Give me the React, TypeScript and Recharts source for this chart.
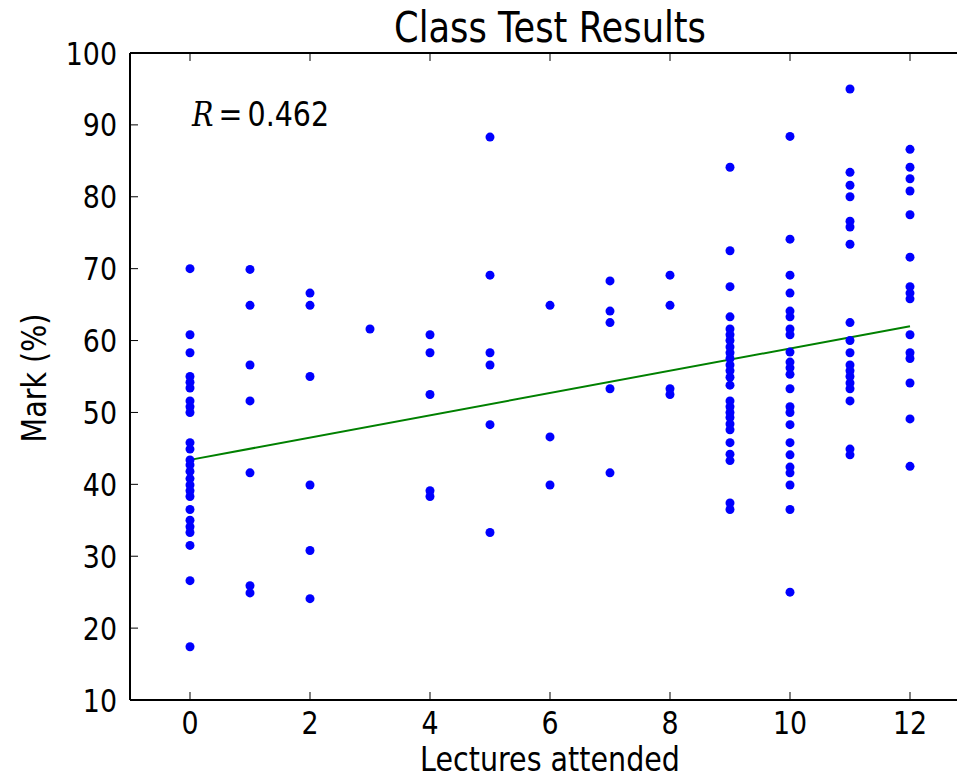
import React from "react";
import {
  ScatterChart,
  Scatter,
  XAxis,
  YAxis,
  ReferenceLine,
  ReferenceDot,
  Label,
} from "recharts";

// marks (%) per number of lectures attended
const lectures = [0, 1, 2, 3, 4, 5, 6, 7, 8, 9, 10, 11, 12];
const marks0 = [70, 60.8, 58.3, 55.0, 54.2, 53.4, 51.6, 50.8, 50.0, 45.8, 44.9, 43.4, 42.7, 41.8, 40.8, 39.9, 39.1, 38.3, 36.5, 35.0, 34.1, 33.3, 31.5, 26.6, 17.4];
const marks1 = [69.9, 64.9, 56.6, 51.6, 41.6, 25.9, 24.9];
const marks2 = [66.6, 64.9, 55.0, 39.9, 30.8, 24.1];
const marks3 = [61.6];
const marks4 = [60.8, 58.3, 52.5, 39.1, 38.3];
const marks5 = [88.3, 69.1, 58.3, 56.6, 48.3, 33.3];
const marks6 = [64.9, 46.6, 39.9];
const marks7 = [68.3, 64.1, 62.5, 53.3, 41.6];
const marks8 = [69.1, 64.9, 53.3, 52.5];
const marks9 = [84.1, 72.5, 67.5, 63.3, 61.6, 60.8, 60.0, 59.1, 58.3, 57.5, 56.6, 55.8, 54.9, 53.8, 51.6, 50.8, 50.0, 49.3, 48.4, 47.6, 45.8, 44.2, 43.3, 37.4, 36.5];
const marks10 = [88.4, 74.1, 69.1, 66.6, 64.1, 63.3, 61.6, 60.8, 58.4, 57.0, 56.2, 55.3, 53.3, 50.8, 50.0, 48.3, 45.8, 44.1, 42.4, 41.6, 39.9, 36.5, 25.0];
const marks11 = [95.0, 83.4, 81.6, 80.0, 76.6, 75.8, 73.4, 62.5, 60.0, 58.3, 56.6, 55.8, 55.0, 54.1, 53.3, 51.6, 44.9, 44.1];
const marks12 = [86.6, 84.1, 82.5, 80.8, 77.5, 71.6, 67.5, 66.6, 65.8, 60.8, 58.3, 57.5, 54.1, 49.1, 42.5];

// least-squares line endpoints (as drawn)
const fitX = [0, 12];
const fitY = [43.4, 62.0];

const xTicks = [0, 2, 4, 6, 8, 10, 12];
const yTicks = [10, 20, 30, 40, 50, 60, 70, 80, 90, 100];
const rLabel = "0.462";

const allMarks = [marks0, marks1, marks2, marks3, marks4, marks5, marks6, marks7, marks8, marks9, marks10, marks11, marks12];
const points = lectures.flatMap((x, i) => allMarks[i].map((y) => ({ x, y })));

const FONT = "'DejaVu Sans', sans-serif";
const SX = 0.84; // the source text is a bit narrow, so squeeze it horizontally
const TICK_FS = 32;
const LABEL_FS = 34;

const XTick = (props: any) => (
  <text
    transform={`translate(${props.x} ${props.y + 0.72 * TICK_FS}) scale(${SX} 1)`}
    textAnchor="middle"
    fontSize={TICK_FS}
    fontFamily={FONT}
    fill="#000"
  >
    {props.payload.value}
  </text>
);

const YTick = (props: any) => (
  <text
    transform={`translate(${props.x} ${props.y + 0.36 * TICK_FS}) scale(${SX} 1)`}
    textAnchor="end"
    fontSize={TICK_FS}
    fontFamily={FONT}
    fill="#000"
  >
    {props.payload.value}
  </text>
);

const Dot = (props: any) => <circle cx={props.cx} cy={props.cy} r={4.5} fill="#0000ff" />;

export default function App() {
  return (
    <div style={{ position: "absolute", left: 0, top: 0, width: 957, height: 780, overflow: "hidden", background: "#fff" }}>
      <ScatterChart width={990} height={780} margin={{ top: 52, right: 20, bottom: 0, left: 0 }}>
        <XAxis
          type="number"
          dataKey="x"
          domain={[-1, 13]}
          ticks={xTicks}
          interval={0}
          allowDataOverflow
          height={80}
          tickSize={-8}
          tickMargin={19}
          tick={XTick}
          axisLine={{ stroke: "#000", strokeWidth: 2 }}
          tickLine={{ stroke: "#000", strokeWidth: 1 }}
        >
          <Label
            content={() => (
              <text
                transform={`translate(550 771) scale(${SX} 1)`}
                textAnchor="middle"
                fontSize={LABEL_FS}
                fontFamily={FONT}
                fill="#000"
              >
                Lectures attended
              </text>
            )}
          />
        </XAxis>
        <XAxis
          xAxisId="top"
          orientation="top"
          type="number"
          dataKey="x"
          domain={[-1, 13]}
          ticks={xTicks}
          interval={0}
          allowDataOverflow
          height={1}
          tickSize={-8}
          tickFormatter={() => ""}
          axisLine={{ stroke: "#000", strokeWidth: 2 }}
          tickLine={{ stroke: "#000", strokeWidth: 1 }}
        />
        <YAxis
          type="number"
          dataKey="y"
          domain={[10, 100]}
          ticks={yTicks}
          interval={0}
          allowDataOverflow
          width={130}
          tickSize={-8}
          tickMargin={21}
          tick={YTick}
          axisLine={{ stroke: "#000", strokeWidth: 2 }}
          tickLine={{ stroke: "#000", strokeWidth: 1 }}
        >
          <Label
            content={() => (
              <text
                transform={`translate(46 378) rotate(-90) scale(${SX} 1)`}
                textAnchor="middle"
                fontSize={LABEL_FS}
                fontFamily={FONT}
                fill="#000"
              >
                Mark (%)
              </text>
            )}
          />
        </YAxis>
        <Scatter xAxisId="top" data={[]} isAnimationActive={false} />
        <Scatter data={points} shape={Dot} isAnimationActive={false} />
        <ReferenceLine y={100} stroke="#000" strokeWidth={2} ifOverflow="extendDomain" />
        <ReferenceLine
          segment={[
            { x: fitX[0], y: fitY[0] },
            { x: fitX[1], y: fitY[1] },
          ]}
          stroke="#008000"
          strokeWidth={2}
        />
        <ReferenceDot
          x={0}
          y={90}
          r={0}
          fill="none"
          stroke="none"
          label={(p: any) => (
            <text
              transform={`translate(${p.viewBox.x + 2} ${p.viewBox.y + 1}) scale(${SX} 1)`}
              fontSize={LABEL_FS}
              fill="#000"
            >
              <tspan fontFamily="'DejaVu Serif', serif" fontStyle="italic">R</tspan>
              <tspan fontFamily="'DejaVu Serif', serif" dx={6}>=</tspan>
              <tspan fontFamily={FONT} dx={6}>{rLabel}</tspan>
            </text>
          )}
        />
        <text
          transform={`translate(550 42) scale(${SX} 1)`}
          textAnchor="middle"
          fontSize={42}
          fontFamily={FONT}
          fill="#000"
        >
          Class Test Results
        </text>
      </ScatterChart>
    </div>
  );
}
